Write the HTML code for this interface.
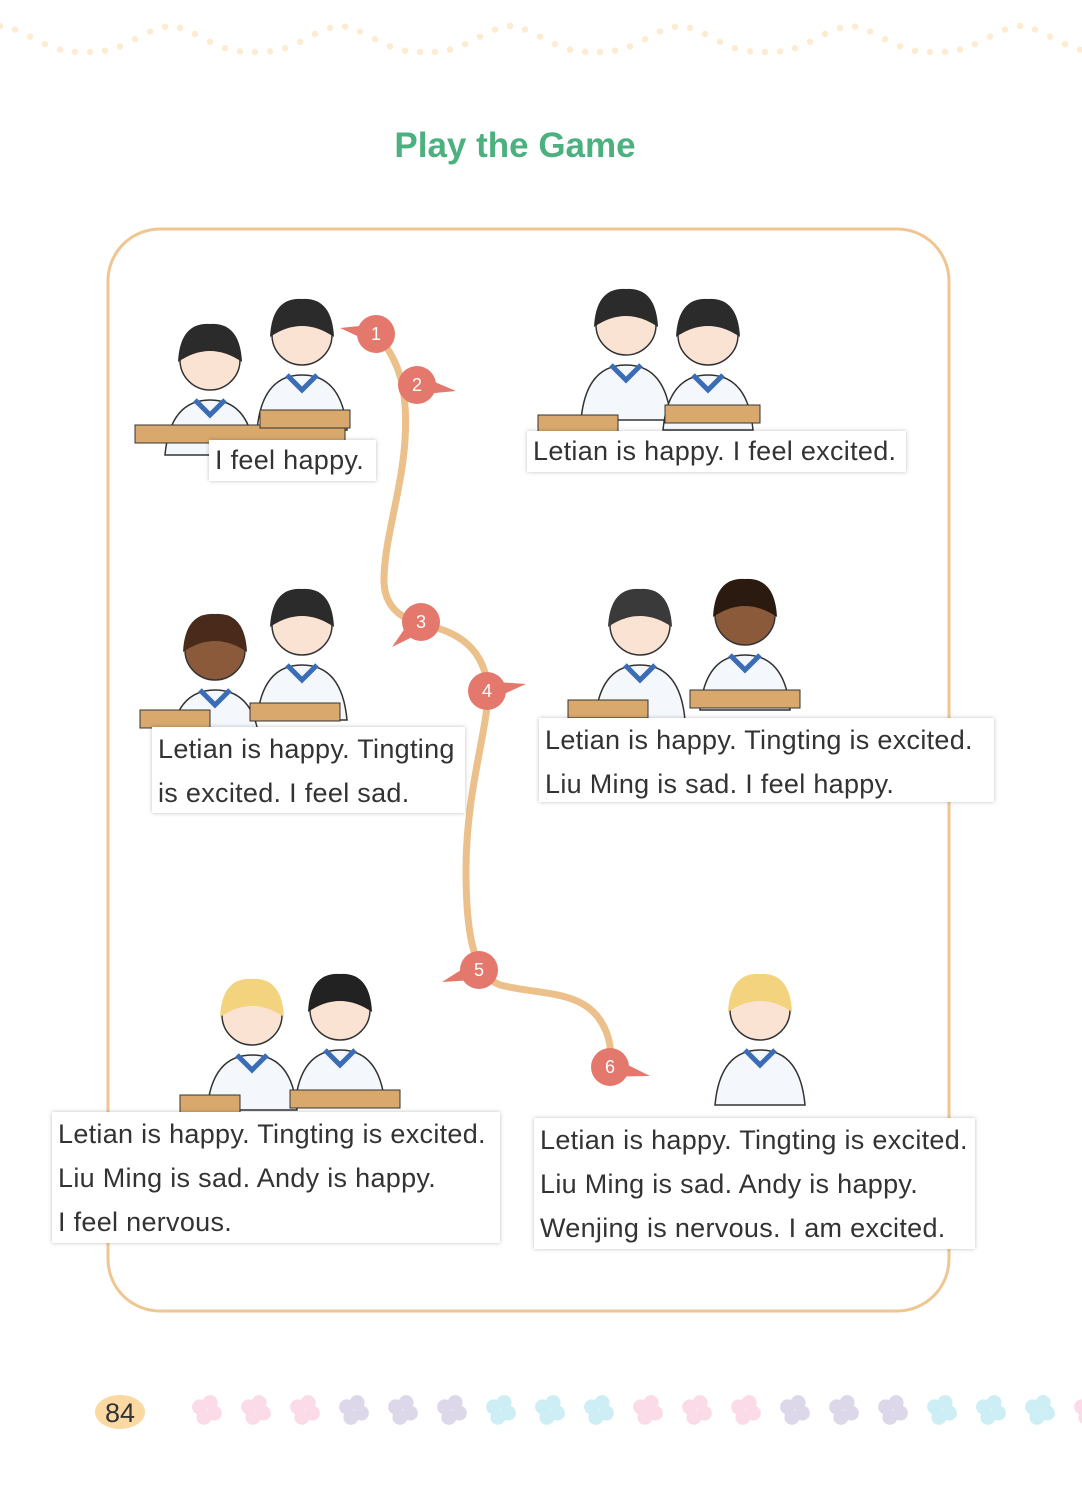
<!DOCTYPE html>
<html><head><meta charset="utf-8">
<style>
body{margin:0;width:1082px;height:1508px;background:#fff;position:relative;overflow:hidden;font-family:"Liberation Sans",sans-serif}
.t{position:absolute;left:0;width:1030px;text-align:center;top:126px;font-size:35px;font-weight:bold;color:#4cb07f}
.box{position:absolute;background:#fff;box-shadow:0 0 4px rgba(0,0,0,.25);font-size:27px;letter-spacing:0.3px;line-height:44px;color:#333;padding:0 6px;box-sizing:border-box;white-space:nowrap}
svg{position:absolute;left:0;top:0}
</style></head><body>
<svg id="s" width="1082" height="1508">
<rect x="108" y="229" width="841" height="1082" rx="52" fill="none" stroke="#efc692" stroke-width="3"/>
<g id="kids"></g>
<path d="M376,334 C400,360 408,390 405,440 C402,490 384,540 384,580 C384,610 405,620 425,625 C460,632 485,650 488,690 C488,730 466,790 466,870 C466,940 475,975 500,985 C540,995 580,990 600,1020 C610,1035 612,1050 610,1066" fill="none" stroke="#ecc08a" stroke-width="7" stroke-linecap="round"/>
<g id="m" fill="#e4786c"></g>
<g id="dots" fill="#fdebd2"></g>
<g id="fl"></g>
<ellipse cx="120" cy="1412" rx="25" ry="17" fill="#fcd9a3"/>
<text x="120" y="1422" text-anchor="middle" font-size="27" fill="#333" font-family="Liberation Sans">84</text>
</svg>
<div class="t">Play the Game</div>
<div class="box" style="left:209px;top:440px;width:167px;height:41px;line-height:41px">I feel happy.</div>
<div class="box" style="left:527px;top:431px;width:379px;height:41px;line-height:41px">Letian is happy. I feel excited.</div>
<div class="box" style="left:152px;top:727px;width:313px;height:86px;line-height:44px">Letian is happy. Tingting<br>is excited. I feel sad.</div>
<div class="box" style="left:539px;top:718px;width:455px;height:84px">Letian is happy. Tingting is excited.<br>Liu Ming is sad. I feel happy.</div>
<div class="box" style="left:52px;top:1112px;width:448px;height:131px">Letian is happy. Tingting is excited.<br>Liu Ming is sad. Andy is happy.<br>I feel nervous.</div>
<div class="box" style="left:534px;top:1118px;width:441px;height:131px">Letian is happy. Tingting is excited.<br>Liu Ming is sad. Andy is happy.<br>Wenjing is nervous. I am excited.</div>
<script>
const NS="http://www.w3.org/2000/svg";
function el(p,t,a){const e=document.createElementNS(NS,t);for(const k in a)e.setAttribute(k,a[k]);p.appendChild(e);return e;}
const m=document.getElementById('m');
[[376,334,340,328,'1'],[417,385,456,391,'2'],[421,622,392,647,'3'],[487,691,526,684,'4'],[479,970,442,982,'5'],[610,1067,650,1076,'6']].forEach(([x,y,tx,ty,n])=>{
 const a=Math.atan2(ty-y,tx-x),p=a+Math.PI/2,w=10;
 el(m,'path',{d:`M${x+Math.cos(p)*w},${y+Math.sin(p)*w} L${tx},${ty} L${x-Math.cos(p)*w},${y-Math.sin(p)*w}Z`});
 el(m,'circle',{cx:x,cy:y,r:19});
 const t=el(m,'text',{x:x,y:y+6,'text-anchor':'middle','font-size':18,fill:'#fff','font-family':'Liberation Sans'});t.textContent=n;});
const d=document.getElementById('dots');
for(let x=0;x<1082;x+=15){const ph=(x%170)/170;const y=48-22*Math.pow(Math.abs(Math.cos(ph*Math.PI)),3)+4*Math.sin(ph*Math.PI);el(d,'circle',{cx:x,cy:y,r:3.2});}
const f=document.getElementById('fl');
const cols=['#fbdbe7','#fbdbe7','#fbdbe7','#ddd7ea','#ddd7ea','#ddd7ea','#cdeef4','#cdeef4','#cdeef4'];
for(let i=0;i<19;i++){const x=207+i*49,c=cols[i%9];for(let k=0;k<4;k++){const a=k*Math.PI/2+0.4;el(f,'circle',{cx:x+8*Math.cos(a),cy:1410+8*Math.sin(a),r:7.5,fill:c});}}
const g=document.getElementById('kids');
function kid(x,y,hair,skin){el(g,'path',{d:`M${x-45},${y+95} Q${x-40},${y+40} ${x},${y+40} Q${x+40},${y+40} ${x+45},${y+95}Z`,fill:'#f4f8fc',stroke:'#333','stroke-width':1.5});
el(g,'path',{d:`M${x-15},${y+40} L${x},${y+55} L${x+15},${y+40}`,fill:'none',stroke:'#3a6db5','stroke-width':5});
el(g,'circle',{cx:x,cy:y,r:30,fill:skin,stroke:'#333','stroke-width':1.5});
el(g,'path',{d:`M${x-32},${y+2} Q${x-30},${y-38} ${x},${y-36} Q${x+30},${y-38} ${x+32},${y+2} Q${x},${y-20} ${x-32},${y+2}Z`,fill:hair});}
[[210,360,'#2b2b2b'],[302,335,'#2b2b2b'],[626,325,'#2b2b2b'],[708,335,'#2b2b2b'],[215,650,'#4a2a1a'],[302,625,'#2b2b2b'],[640,625,'#3a3a3a'],[745,615,'#2a1a10'],[252,1015,'#f3d37e'],[340,1010,'#222'],[760,1010,'#f3d37e']].forEach(([x,y,h])=>kid(x,y,h,h=='#4a2a1a'||h=='#2a1a10'?'#8a5a3a':'#fbe3d4'));
[[135,425,210],[260,410,90],[538,415,80],[665,405,95],[140,710,70],[250,703,90],[568,700,80],[690,690,110],[180,1095,60],[290,1090,110]].forEach(([x,y,w])=>el(g,'rect',{x:x,y:y,width:w,height:18,fill:'#d9a86c',stroke:'#333','stroke-width':1}));
</script>
</body></html>
